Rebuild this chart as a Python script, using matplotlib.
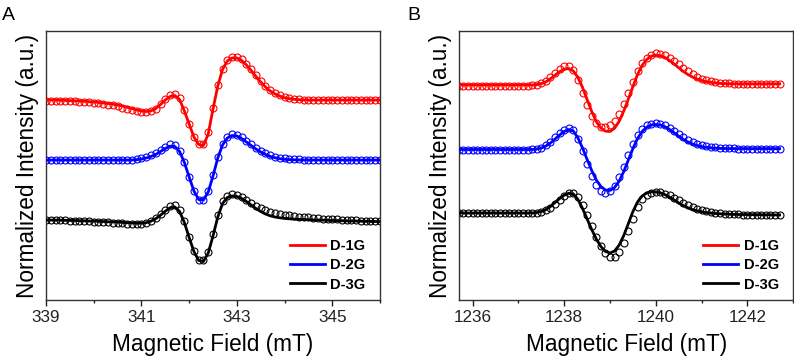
import numpy as np
import matplotlib
matplotlib.use("Agg")
import matplotlib.pyplot as plt

plt.rcParams['font.family'] = ['Liberation Sans', 'DejaVu Sans']

# ---------------- Panel A (X band) ----------------
field_A = np.round(np.linspace(339.0, 346.0, 71), 2)

fit_1G_A = [200.0, 200.0, 199.9, 199.8, 199.6, 199.4, 199.2, 199.0, 198.7, 198.4,
            198.0, 197.6, 197.1, 196.5, 195.8, 195.0, 194.0, 192.8, 191.5, 190.2,
            189.0, 188.5, 189.2, 191.5, 195.5, 200.0, 203.5, 204.5, 200.5, 189.0,
            176.0, 163.0, 155.5, 154.5, 166.0, 191.0, 214.0, 230.5, 239.0, 242.0,
            242.0, 239.5, 235.0, 229.5, 223.5, 218.0, 213.0, 209.0, 206.0, 203.8,
            202.3, 201.3, 200.7, 200.3, 200.1, 200.0, 200.0, 200.0, 200.0, 200.0,
            200.0, 200.0, 200.0, 200.0, 200.0, 200.0, 200.0, 200.0, 200.0, 200.0,
            200.0]
exp_1G_A = [199.5, 199.5, 199.4, 199.3, 199.1, 198.9, 198.6, 198.3, 198.0, 197.6,
            197.2, 196.7, 196.1, 195.4, 194.6, 193.6, 192.5, 191.2, 189.9, 188.7,
            187.8, 187.6, 188.6, 191.5, 196.0, 201.0, 205.0, 206.0, 202.0, 190.0,
            176.5, 163.0, 156.0, 156.5, 168.0, 192.0, 215.0, 231.5, 240.5, 243.5,
            243.5, 241.0, 236.5, 231.0, 225.0, 219.5, 214.5, 210.5, 207.5, 205.0,
            203.3, 202.2, 201.4, 200.9, 200.5, 200.3, 200.2, 200.0, 200.0, 200.0,
            200.0, 200.0, 200.0, 200.0, 200.0, 200.0, 200.0, 200.0, 200.0, 200.0,
            200.0]
fit_2G_A = [140.0, 140.0, 140.0, 140.0, 140.0, 140.0, 140.0, 140.0, 140.0, 140.0,
            140.0, 140.0, 140.0, 140.0, 140.0, 140.0, 140.0, 140.0, 140.0, 140.4,
            141.0, 142.0, 143.5, 145.5, 148.5, 151.5, 153.8, 153.5, 148.5, 137.5,
            123.0, 109.0, 100.5, 100.0, 108.0, 124.0, 142.0, 155.0, 162.0, 164.5,
            164.0, 161.5, 158.0, 154.5, 151.0, 148.0, 145.5, 143.5, 142.2, 141.3,
            140.7, 140.3, 140.1, 140.0, 140.0, 140.0, 140.0, 140.0, 140.0, 140.0,
            140.0, 140.0, 140.0, 140.0, 140.0, 140.0, 140.0, 140.0, 140.0, 140.0,
            140.0]
exp_2G_A = [140.3, 140.3, 140.3, 140.3, 140.3, 140.3, 140.3, 140.3, 140.3, 140.3,
            140.3, 140.3, 140.3, 140.3, 140.3, 140.3, 140.3, 140.3, 140.5, 141.0,
            141.8, 143.0, 144.8, 147.2, 150.2, 153.5, 156.0, 155.5, 149.5, 138.0,
            123.0, 109.0, 100.0, 100.5, 109.0, 125.5, 143.5, 156.5, 163.5, 165.8,
            165.5, 163.0, 159.5, 156.0, 152.5, 149.5, 147.0, 145.0, 143.5, 142.4,
            141.6, 141.1, 140.8, 140.6, 140.5, 140.4, 140.4, 140.4, 140.4, 140.4,
            140.4, 140.4, 140.4, 140.4, 140.4, 140.4, 140.4, 140.4, 140.4, 140.4,
            140.4]
fit_3G_A = [80.0, 80.0, 79.9, 79.8, 79.7, 79.6, 79.5, 79.3, 79.2, 79.0,
            78.9, 78.7, 78.5, 78.3, 78.1, 77.9, 77.6, 77.3, 77.0, 76.8,
            76.8, 77.3, 78.8, 81.3, 84.8, 88.8, 92.3, 93.0, 88.5, 77.5,
            62.5, 48.5, 39.5, 38.5, 47.0, 64.0, 83.0, 96.5, 102.5, 104.0,
            103.5, 101.5, 98.5, 95.0, 91.5, 88.5, 86.0, 84.2, 83.0, 82.2,
            81.6, 81.2, 80.9, 80.7, 80.5, 80.3, 80.1, 80.0, 79.8, 79.7,
            79.5, 79.4, 79.2, 79.1, 79.0, 78.9, 78.8, 78.7, 78.6, 78.5,
            78.4]
exp_3G_A = [80.0, 79.9, 79.8, 79.7, 79.6, 79.4, 79.3, 79.1, 78.9, 78.7,
            78.5, 78.3, 78.0, 77.8, 77.5, 77.2, 76.8, 76.4, 76.0, 75.8,
            76.0, 77.0, 79.0, 82.0, 86.0, 90.5, 94.5, 95.5, 90.5, 79.0,
            63.5, 49.0, 40.5, 40.0, 48.5, 66.0, 85.5, 99.0, 104.5, 106.0,
            105.5, 103.5, 100.5, 97.5, 94.5, 92.0, 90.0, 88.3, 87.0, 86.0,
            85.2, 84.6, 84.0, 83.5, 83.0, 82.6, 82.2, 81.8, 81.5, 81.2,
            80.9, 80.6, 80.3, 80.1, 79.9, 79.6, 79.4, 79.2, 79.0, 78.8,
            78.6]

# ---------------- Panel B (Q band) ----------------
field_B = np.round(np.linspace(1235.7, 1242.7, 71), 2)

fit_1G_B = [215.0, 215.0, 215.0, 215.0, 215.0, 215.0, 215.0, 215.0, 215.0, 215.0,
            215.0, 215.0, 215.0, 215.0, 215.0, 215.0, 215.0, 215.4, 216.3, 218.2,
            221.2, 224.8, 228.3, 230.8, 231.5, 229.0, 222.5, 212.5, 200.5, 188.5,
            178.5, 172.0, 168.8, 168.5, 171.8, 178.8, 189.0, 201.0, 213.5, 225.5,
            234.5, 240.5, 243.8, 244.8, 244.3, 242.5, 239.5, 236.0, 232.2, 228.6,
            225.5, 223.0, 221.0, 219.5, 218.4, 217.6, 217.0, 216.6, 216.4, 216.3,
            216.2, 216.2, 216.2, 216.2, 216.2, 216.2, 216.2, 216.2, 216.2, 216.2,
            216.2]
exp_1G_B = [214.5, 214.5, 214.5, 214.5, 214.5, 214.5, 214.5, 214.5, 214.5, 214.5,
            214.5, 214.5, 214.5, 214.5, 214.5, 214.5, 214.8, 215.5, 217.0, 219.5,
            223.0, 227.0, 231.0, 234.0, 234.5, 230.0, 220.0, 207.5, 195.0, 184.5,
            177.0, 173.5, 173.0, 175.0, 179.5, 186.5, 196.0, 207.0, 218.5, 229.0,
            237.0, 242.5, 245.5, 246.8, 246.5, 245.0, 242.5, 239.5, 236.0, 232.5,
            229.0, 226.0, 223.5, 221.5, 220.0, 218.8, 218.0, 217.4, 217.0, 216.7,
            216.5, 216.3, 216.3, 216.3, 216.3, 216.3, 216.3, 216.3, 216.3, 216.3,
            216.3]
fit_2G_B = [150.5, 150.5, 150.5, 150.5, 150.5, 150.5, 150.5, 150.5, 150.5, 150.5,
            150.5, 150.5, 150.5, 150.5, 150.5, 150.5, 150.5, 151.0, 152.0, 154.0,
            157.0, 161.0, 165.0, 168.5, 170.5, 169.0, 162.0, 152.0, 140.5, 129.5,
            120.0, 113.5, 110.0, 109.5, 112.5, 119.0, 128.5, 140.0, 151.5, 161.5,
            168.5, 172.8, 175.0, 175.5, 175.0, 173.2, 170.5, 167.2, 163.8, 160.6,
            158.0, 156.0, 154.5, 153.4, 152.6, 152.1, 151.8, 151.6, 151.5, 151.4,
            151.4, 151.4, 151.4, 151.4, 151.4, 151.4, 151.4, 151.4, 151.4, 151.4,
            151.4]
exp_2G_B = [150.3, 150.3, 150.3, 150.3, 150.3, 150.3, 150.3, 150.3, 150.3, 150.3,
            150.3, 150.3, 150.3, 150.3, 150.3, 150.3, 150.6, 151.2, 152.5, 155.0,
            158.5, 162.8, 167.0, 170.5, 172.5, 170.0, 161.5, 149.5, 136.5, 124.5,
            115.0, 109.0, 107.0, 109.0, 114.5, 123.0, 133.5, 145.0, 156.0, 165.0,
            171.0, 174.8, 176.5, 176.8, 176.2, 174.8, 172.5, 169.5, 166.3, 163.2,
            160.5, 158.2, 156.4, 155.0, 154.0, 153.2, 152.6, 152.2, 151.9, 151.7,
            151.6, 151.5, 151.5, 151.5, 151.5, 151.5, 151.5, 151.5, 151.5, 151.5,
            151.5]
fit_3G_B = [87.0, 87.0, 87.0, 87.0, 87.0, 87.0, 87.0, 87.0, 87.0, 87.0,
            87.0, 87.0, 87.0, 87.0, 87.0, 87.0, 87.0, 87.5, 88.5, 90.5,
            93.5, 97.5, 101.5, 104.8, 106.8, 106.0, 100.5, 91.5, 81.0, 70.5,
            61.0, 53.5, 48.5, 47.0, 49.0, 55.0, 64.5, 76.5, 88.5, 98.0,
            104.0, 107.0, 108.2, 108.2, 107.2, 105.3, 102.8, 100.0, 97.0, 94.4,
            92.2, 90.5, 89.2, 88.2, 87.4, 86.9, 86.5, 86.2, 86.0, 85.8,
            85.6, 85.5, 85.5, 85.4, 85.4, 85.3, 85.3, 85.2, 85.2, 85.1,
            85.1]
exp_3G_B = [86.8, 86.8, 86.8, 86.8, 86.8, 86.8, 86.8, 86.8, 86.8, 86.8,
            86.8, 86.8, 86.8, 86.8, 86.8, 86.8, 86.9, 87.2, 88.0, 89.6,
            92.2, 96.0, 100.3, 104.2, 106.8, 107.0, 103.0, 95.0, 85.0, 74.0,
            63.5, 54.5, 47.0, 43.0, 43.5, 48.5, 57.5, 69.0, 81.5, 93.0,
            101.0, 105.5, 107.5, 108.0, 107.6, 106.5, 104.6, 102.2, 99.6, 97.0,
            94.7, 92.7, 91.0, 89.7, 88.6, 87.8, 87.2, 86.7, 86.3, 86.0,
            85.8, 85.6, 85.5, 85.5, 85.4, 85.3, 85.3, 85.2, 85.2, 85.1,
            85.0]

labels = ["D-1G", "D-2G", "D-3G"]
colors = ["#ff0000", "#0000ff", "#000000"]
xticks_A = [339, 341, 343, 345]
xticks_B = [1236, 1238, 1240, 1242]

W, H = 794, 362
fig = plt.figure(figsize=(W / 100, H / 100), dpi=100)
axA = fig.add_axes([46 / W, 62 / H, 334 / W, 269 / H])
axB = fig.add_axes([459.3 / W, 62 / H, 334 / W, 269 / H])


def draw(ax, x, fits, exps, xlim, xticks):
    handles = []
    for fit, exp, c in zip(fits, exps, colors):
        ax.plot(x, exp, linestyle='none', marker='o', markersize=5.0,
                markerfacecolor='none', markeredgecolor=c, markeredgewidth=0.8,
                zorder=2)
        h, = ax.plot(x, fit, color=c, linewidth=2.0, zorder=3)
        handles.append(h)
    ax.set_xlim(*xlim)
    ax.set_ylim(0, 269)
    ax.set_xticks(xticks)
    ax.set_xticks([t + 1 for t in xticks], minor=True)
    ax.tick_params(axis='x', which='major', direction='out', length=4, width=1,
                   labelsize=12.3, pad=3, colors='#222222')
    ax.tick_params(axis='x', which='minor', direction='out', length=2.5, width=1,
                   colors='#222222')
    ax.tick_params(axis='y', left=False, labelleft=False)
    for s in ax.spines.values():
        s.set_color('#333333')
        s.set_linewidth(1.0)
    ax.set_xlabel('Magnetic Field (mT)', fontsize=16.3, labelpad=6)
    ax.set_ylabel('Normalized Intensity (a.u.)', fontsize=16.3)
    ax.yaxis.set_label_coords(-0.022, 0.5)
    ax.legend(handles, labels, loc='lower right', bbox_to_anchor=(0.983, -0.001),
              frameon=False, prop={'weight': 'bold', 'size': 10.5},
              handlelength=2.4, handletextpad=0.4, labelspacing=0.35,
              borderaxespad=0.2)


draw(axA, field_A, [fit_1G_A, fit_2G_A, fit_3G_A], [exp_1G_A, exp_2G_A, exp_3G_A],
     (339.0, 346.0), xticks_A)
draw(axB, field_B, [fit_1G_B, fit_2G_B, fit_3G_B], [exp_1G_B, exp_2G_B, exp_3G_B],
     (1235.71, 1242.68), xticks_B)

fig.text(2 / W, 1 - 20.5 / H, 'A', fontsize=14, va='baseline', ha='left')
fig.text(407 / W, 1 - 20.5 / H, 'B', fontsize=14, va='baseline', ha='left')

fig.savefig('out.png', dpi=100)
